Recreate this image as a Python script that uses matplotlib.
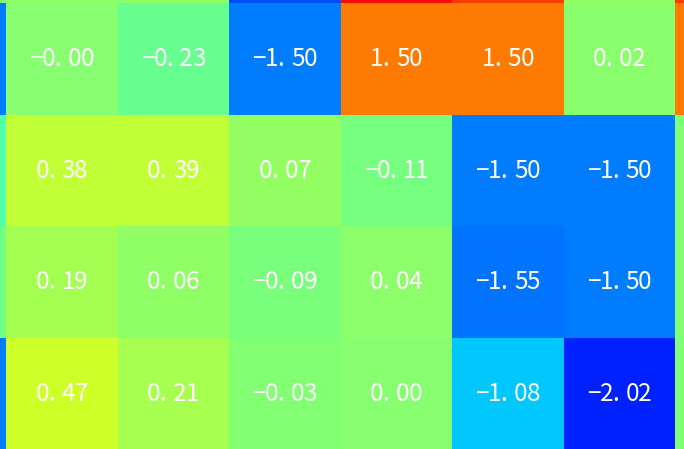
import numpy as np
import matplotlib
matplotlib.use('Agg')
import matplotlib.pyplot as plt

# visible part of a larger heatmap: partial edge cells + 4x6 full cells
top_row   = [0.00, 0.05, 0.05, -1.78, 2.14, 1.87, 0.05, 1.87]
row_1     = [-1.50, -0.001, -0.23, -1.50, 1.50, 1.50, 0.02, 1.50]
row_2     = [-0.38, 0.38, 0.39, 0.07, -0.11, -1.50, -1.50, -0.05]
row_3     = [-0.16, 0.19, 0.06, -0.09, 0.04, -1.55, -1.50, -0.05]
row_4     = [-1.50, 0.47, 0.21, -0.03, 0.00, -1.08, -2.02, -0.05]

data = np.array([top_row, row_1, row_2, row_3, row_4])
vmin, vmax = -2.91, 2.74

fig_w, fig_h, dpi = 684, 449, 100
cell = 111.5
x0_px = 6 - cell
y0_px = 3 - cell
nrows, ncols = data.shape

fig = plt.figure(figsize=(fig_w / dpi, fig_h / dpi), dpi=dpi)
left = x0_px / fig_w
width = ncols * cell / fig_w
top = 1 - y0_px / fig_h
height = nrows * cell / fig_h
ax = fig.add_axes([left, top - height, width, height])

ax.pcolormesh(data, cmap='jet', vmin=vmin, vmax=vmax)
ax.set_xlim(0, ncols)
ax.set_ylim(nrows, 0)
ax.axis('off')

# monospaced look: one glyph per slot
pitch = 12.9 * 72 / dpi   # points
base = -7.5 * 72 / dpi
shift = {'.': -4 * 72 / dpi}
for i in range(1, nrows):
    for j in range(1, ncols - 1):
        txt = ('%.2f' % data[i, j]).replace('-', '\u2212')
        n = len(txt)
        for k, ch in enumerate(txt):
            dx = (k - (n - 1) / 2) * pitch + shift.get(ch, 0)
            ax.annotate(ch, xy=(j + 0.5, i + 0.5), xytext=(dx, base),
                        textcoords='offset points', ha='center', va='baseline',
                        color='white', fontsize=17.5, fontweight='light',
                        family=['Noto Sans CJK SC', 'DejaVu Sans'])

fig.savefig('out.png', dpi=dpi)
